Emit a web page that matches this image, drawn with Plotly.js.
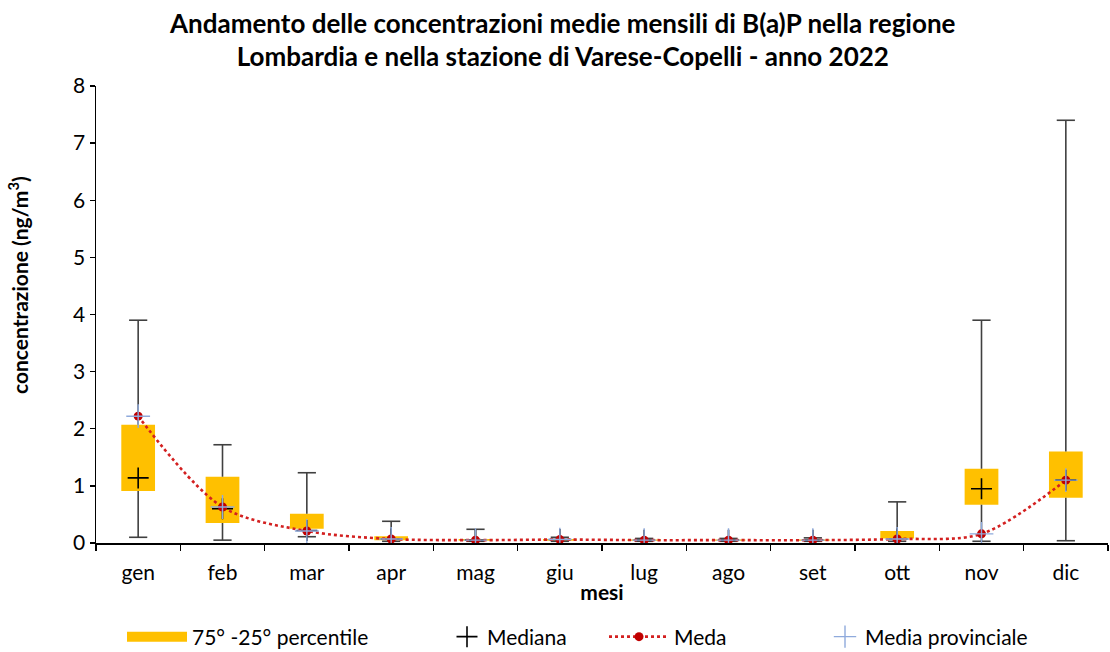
<!DOCTYPE html>
<html><head><meta charset="utf-8">
<script src="https://cdn.plot.ly/plotly-3.0.1.min.js"></script>
<style>html,body{margin:0;padding:0;background:#fff}#c{width:1110px;height:652px}</style>
</head><body><div id="c"></div>
<script>
const months = ['gen','feb','mar','apr','mag','giu','lug','ago','set','ott','nov','dic'];
const p25    = [0.91, 0.35, 0.25, 0.05, 0.04, 0.04, 0.04, 0.04, 0.04, 0.08, 0.67, 0.79];
const p75    = [2.07, 1.16, 0.51, 0.12, 0.07, 0.07, 0.06, 0.06, 0.06, 0.21, 1.30, 1.60];
const minV   = [0.10, 0.05, 0.11, 0.03, 0.03, 0.03, 0.03, 0.03, 0.03, 0.03, 0.03, 0.04];
const maxV   = [3.90, 1.72, 1.23, 0.38, 0.24, 0.10, 0.08, 0.08, 0.09, 0.72, 3.90, 7.40];
const median = [1.14, 0.60, 0.22, 0.07, 0.05, 0.06, 0.05, 0.05, 0.05, 0.07, 0.95, 1.10];
const mean   = [2.22, 0.63, 0.21, 0.07, 0.05, 0.06, 0.05, 0.05, 0.05, 0.07, 0.16, 1.10];
const mediaProv = [2.22, 0.63, 0.21, 0.07, 0.05, 0.06, 0.05, 0.05, 0.05, 0.07, 0.16, 1.10];

const FONT = 'Lato, "Open Sans", sans-serif';
const ORANGE = '#FFC000';

// whisker segments
const wx = [], wy = [];
months.forEach((m, i) => {
  wx.push(m, m, null, m, m, null);
  wy.push(p75[i], maxV[i], null, p25[i], minV[i], null);
});

const traces = [
  {
    type: 'bar', x: months, y: p75.map((v, i) => v - p25[i]), base: p25,
    width: 0.4, marker: {color: ORANGE, line: {width: 0}},
    showlegend: false, hoverinfo: 'skip'
  },
  {
    type: 'scatter', mode: 'lines', x: wx, y: wy, showlegend: false,
    line: {color: '#404040', width: 1.6}, hoverinfo: 'skip', connectgaps: false
  },
  {
    type: 'scatter', mode: 'markers', x: months.concat(months), y: maxV.concat(minV),
    showlegend: false, hoverinfo: 'skip',
    marker: {symbol: 'line-ew', size: 13, line: {color: '#404040', width: 1.6}}
  },
  {
    // legend entry for the percentile boxes (wide rectangle swatch)
    type: 'scatter', mode: 'lines', x: [null], y: [null], name: '75° -25° percentile',
    line: {color: ORANGE, width: 15}, legend: 'legend'
  },
  {
    type: 'scatter', mode: 'markers', x: months, y: median, name: 'Mediana', legend: 'legend2',
    marker: {symbol: 'cross-thin', size: 15, line: {color: '#000000', width: 1.6}}
  },
  {
    type: 'scatter', mode: 'lines+markers', x: months, y: mean, name: 'Meda', legend: 'legend3',
    line: {color: '#D32020', width: 2.6, dash: 'dot', shape: 'spline', smoothing: 0.9},
    marker: {symbol: 'circle', size: 9, color: '#C00000'}
  },
  {
    type: 'scatter', mode: 'markers', x: months, y: mediaProv, name: 'Media provinciale', legend: 'legend4',
    marker: {symbol: 'cross-thin', size: 17, line: {color: '#8FAADC', width: 1.4}}
  }
];

function leg(xpx, w) {
  return {
    orientation: 'h', xref: 'container', yref: 'container',
    x: xpx / 1110, xanchor: 'left', y: (652 - 637) / 652, yanchor: 'middle',
    font: {family: FONT, size: 21, color: '#000'},
    itemwidth: w, bgcolor: 'rgba(0,0,0,0)', borderwidth: 0
  };
}

const layout = {
  width: 1110, height: 652,
  margin: {l: 96, r: 2, t: 86, b: 109, autoexpand: false},
  paper_bgcolor: '#ffffff', plot_bgcolor: '#ffffff',
  font: {family: FONT, size: 21, color: '#000'},
  title: {
    text: '<b>Andamento delle concentrazioni medie mensili di B(a)P nella regione<br>Lombardia e nella stazione di Varese-Copelli - anno 2022</b>',
    font: {family: FONT, size: 26, color: '#000'},
    x: 0.507, xanchor: 'center', y: 0.95, yanchor: 'top'
  },
  showlegend: true,
  legend: leg(122, 60),
  legend2: leg(447, 30),
  legend3: leg(604, 60),
  legend4: leg(825, 30),
  xaxis: {
    type: 'category', categoryorder: 'array', categoryarray: months,
    range: [-0.5, 11.5],
    showline: true, linecolor: '#000', linewidth: 1.5,
    ticks: 'outside', tickson: 'boundaries', ticklen: 6, tickcolor: '#000', tickwidth: 1.3,
    showgrid: false, zeroline: false, ticklabelstandoff: 10,
    tickfont: {family: FONT, size: 21, color: '#000'},
    title: {text: '<b>mesi</b>', font: {family: FONT, size: 21, color: '#000'}, standoff: 2}
  },
  yaxis: {
    range: [0, 8], dtick: 1,
    showline: true, linecolor: '#000', linewidth: 1.5,
    ticks: 'outside', ticklen: 5, tickcolor: '#000', tickwidth: 1.3,
    showgrid: false, zeroline: false,
    tickfont: {family: FONT, size: 21, color: '#000'}
  },
  annotations: [{
    text: '<b>concentrazione (ng/m<sup>3</sup>)</b>', textangle: -90,
    xref: 'paper', yref: 'paper', x: (18 - 96) / 1012, y: (543 - 285) / 457,
    xanchor: 'center', yanchor: 'middle', showarrow: false,
    font: {family: FONT, size: 21, color: '#000'}
  }],
  bargap: 0.6
};

Plotly.newPlot('c', traces, layout, {displayModeBar: false, staticPlot: true});
</script>
</body></html>
